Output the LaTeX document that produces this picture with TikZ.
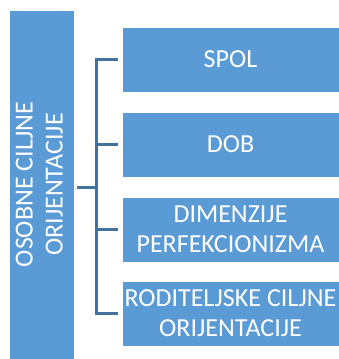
\documentclass[tikz,border=0pt]{standalone}
\usepackage{fontspec}
\setmainfont{Carlito}
\definecolor{boxblue}{HTML}{5B9BD5}
\definecolor{linkblue}{HTML}{41719C}
\begin{document}
\begin{tikzpicture}[x=1pt,y=-1pt,
  box/.style={fill=boxblue, draw=white, line width=0.6pt, text=white, inner sep=0pt,
    font=\fontsize{26}{30}\selectfont, align=center},
  rbox/.style={box, minimum width=217pt, minimum height=65pt},
  conn/.style={draw=linkblue, line width=3pt, line join=miter}]
\useasboundingbox (0,0) rectangle (339,359);
\node[box, minimum width=65pt, minimum height=349pt] (L) at (41.5,184.5)
  {\rotatebox{90}{\begin{tabular}{@{}c@{}}OSOBNE CILJNE\\ORIJENTACIJE\end{tabular}}};
\node[rbox] (B1) at (230.5,59.5) {SPOL};
\node[rbox] (B2) at (230.5,144.5) {DOB};
\node[rbox] (B3) at (230.5,229.5) {DIMENZIJE\\PERFEKCIONIZMA};
\node[rbox] (B4) at (230.5,313.5) {RODITELJSKE CILJNE\\ORIJENTACIJE};
\coordinate (hub) at (97,187);
\draw[conn] ([xshift=-4pt]B1.west) -| ([xshift=-25pt]B4.west) -- ([xshift=-4pt]B4.west);
\draw[conn] ([xshift=-4pt]B2.west) -- ([xshift=-25pt]B2.west);
\draw[conn] ([xshift=-4pt]B3.west) -- ([xshift=-25pt]B3.west);
\draw[conn] ([xshift=3pt,yshift=-2.5pt]L.east) -- (hub);
\end{tikzpicture}
\end{document}
